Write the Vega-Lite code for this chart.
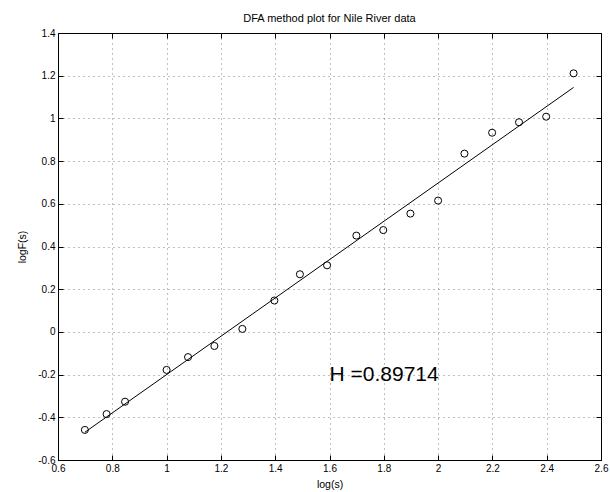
{
  "$schema": "https://vega.github.io/schema/vega-lite/v6.json",
  "width": 543,
  "height": 427,
  "autosize": "none",
  "padding": {"left": 58, "top": 33, "right": 9, "bottom": 32},
  "background": "white",
  "title": {"text": "DFA method plot for Nile River data", "fontSize": 11, "fontWeight": "normal", "font": "Liberation Sans", "color": "black", "offset": 4, "anchor": "middle"},
  "config": {
    "font": "Liberation Sans",
    "view": {"stroke": "black", "strokeWidth": 1},
    "axis": {
      "domainColor": "black",
      "tickColor": "black",
      "labelColor": "black",
      "titleColor": "black",
      "labelFontSize": 10,
      "titleFontSize": 10.5,
      "titleFontWeight": "normal",
      "labelFont": "Liberation Sans",
      "titleFont": "Liberation Sans"
    }
  },
  "datasets": {
    "points": [
      {"logs": 0.699, "logF": -0.459},
      {"logs": 0.779, "logF": -0.385},
      {"logs": 0.847, "logF": -0.327},
      {"logs": 1.0, "logF": -0.178},
      {"logs": 1.079, "logF": -0.118},
      {"logs": 1.176, "logF": -0.066},
      {"logs": 1.279, "logF": 0.014},
      {"logs": 1.397, "logF": 0.147},
      {"logs": 1.491, "logF": 0.27},
      {"logs": 1.591, "logF": 0.312},
      {"logs": 1.699, "logF": 0.451},
      {"logs": 1.798, "logF": 0.477},
      {"logs": 1.898, "logF": 0.554},
      {"logs": 2.0, "logF": 0.615},
      {"logs": 2.097, "logF": 0.835},
      {"logs": 2.199, "logF": 0.933},
      {"logs": 2.298, "logF": 0.982},
      {"logs": 2.398, "logF": 1.008},
      {"logs": 2.499, "logF": 1.211}
    ],
    "fit": [
      {"logs": 0.699, "logF": -0.47},
      {"logs": 2.499, "logF": 1.145}
    ],
    "ann": [
      {"logs": 1.6, "logF": -0.2, "label": "H =0.89714"}
    ]
  },
  "layer": [
    {
      "data": {"name": "points"},
      "mark": {"type": "point", "shape": "circle", "filled": false, "color": "black", "size": 50, "strokeWidth": 1, "opacity": 1},
      "encoding": {
        "x": {"field": "logs", "type": "quantitative", "title": "log(s)",
          "scale": {"domain": [0.6, 2.6], "nice": false, "zero": false},
          "axis": {"orient": "bottom", "values": [0.6, 0.8, 1, 1.2, 1.4, 1.6, 1.8, 2, 2.2, 2.4, 2.6], "labelExpr": "'' + datum.value", "grid": true, "gridColor": "#555", "gridDash": [1, 4], "gridOpacity": 0.75, "tickSize": -5, "labelPadding": 8, "titlePadding": 6, "labelFlush": false, "labelOverlap": false}},
        "y": {"field": "logF", "type": "quantitative", "title": "logF(s)",
          "scale": {"domain": [-0.6, 1.4], "nice": false, "zero": false},
          "axis": {"orient": "left", "values": [-0.6, -0.4, -0.2, 0, 0.2, 0.4, 0.6, 0.8, 1, 1.2, 1.4], "labelExpr": "'' + datum.value", "grid": true, "gridColor": "#555", "gridDash": [1, 4], "gridOpacity": 0.75, "tickSize": -5, "labelPadding": 8, "titlePadding": 10, "labelFlush": false, "labelOverlap": false}}
      }
    },
    {
      "data": {"name": "fit"},
      "mark": {"type": "line", "color": "black", "strokeWidth": 1},
      "encoding": {
        "x": {"field": "logs", "type": "quantitative",
          "scale": {"domain": [0.6, 2.6], "nice": false, "zero": false},
          "axis": {"orient": "top", "values": [0.6, 0.8, 1, 1.2, 1.4, 1.6, 1.8, 2, 2.2, 2.4, 2.6], "labels": false, "title": null, "grid": false, "tickSize": -5}},
        "y": {"field": "logF", "type": "quantitative",
          "scale": {"domain": [-0.6, 1.4], "nice": false, "zero": false},
          "axis": {"orient": "right", "values": [-0.6, -0.4, -0.2, 0, 0.2, 0.4, 0.6, 0.8, 1, 1.2, 1.4], "labels": false, "title": null, "grid": false, "tickSize": -5}}
      }
    },
    {
      "data": {"name": "ann"},
      "mark": {"type": "text", "align": "left", "baseline": "middle", "fontSize": 21, "font": "Liberation Sans", "color": "black"},
      "encoding": {
        "x": {"field": "logs", "type": "quantitative", "axis": null, "scale": {"domain": [0.6, 2.6], "nice": false, "zero": false}},
        "y": {"field": "logF", "type": "quantitative", "axis": null, "scale": {"domain": [-0.6, 1.4], "nice": false, "zero": false}},
        "text": {"field": "label"}
      }
    }
  ],
  "resolve": {"axis": {"x": "independent", "y": "independent"}}
}
